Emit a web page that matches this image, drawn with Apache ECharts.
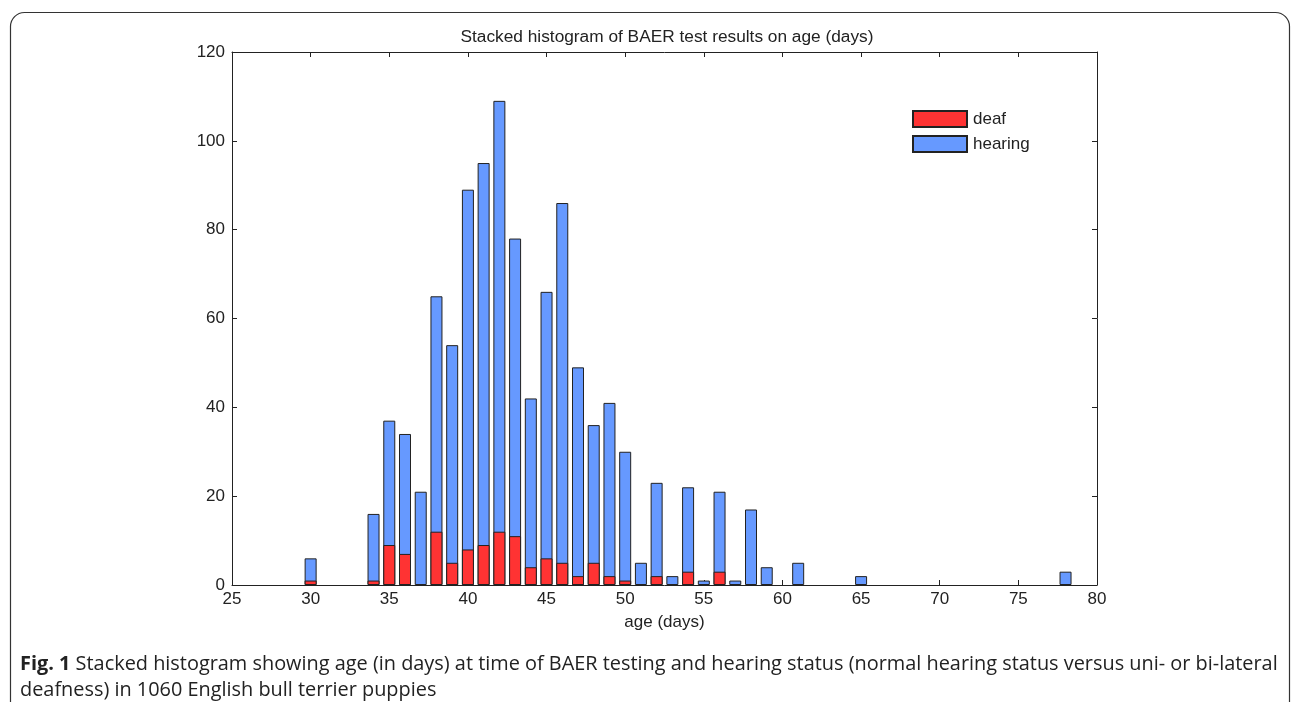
<!DOCTYPE html>
<html>
<head>
<meta charset="utf-8">
<script src="https://cdn.jsdelivr.net/npm/echarts@6/dist/echarts.min.js"></script>
<style>html,body{margin:0;padding:0;background:#fff;}#c{width:1293px;height:702px;}</style>
</head>
<body>
<div id="c"></div>
<script>
var ages = [30,34,35,36,37,38,39,40,41,42,43,44,45,46,47,48,49,50,51,52,53,54,55,56,57,58,59,61,65,78];
var deaf = [1,1,9,7,0,12,5,8,9,12,11,4,6,5,2,5,2,1,0,2,0,3,0,3,0,0,0,0,0,0];
var hearing = [5,15,28,27,21,53,49,81,86,97,67,38,60,81,47,31,39,29,5,21,2,19,1,18,1,17,4,5,2,3];
var yTicks = [0,20,40,60,80,100,120];
var xTicks = [25,30,35,40,45,50,55,60,65,70,75,80];

var RED = '#ff3333', BLUE = '#6699ff', INK = '#222';
var FONT = 'Liberation Sans, Arial, sans-serif';
var chart = echarts.init(document.getElementById('c'), null, {renderer: 'canvas'});
// stacked: the hearing bar spans from 0 to deaf+hearing, the deaf bar is drawn over its base
var stackTop = ages.map(function (a, i) { return [a, deaf[i] + hearing[i]]; });
var deafPts = ages.map(function (a, i) { return deaf[i] > 0 ? [a, deaf[i]] : [a, null]; });
var axisFont = {fontFamily: FONT, fontSize: 17, color: INK};
function boxAxis(extra) {
  return Object.assign({
    axisLine: {show: true, onZero: false, lineStyle: {color: INK, width: 1}},
    axisTick: {show: true, inside: true, length: 5, lineStyle: {color: INK}},
    splitLine: {show: false}
  }, extra);
}
chart.setOption({
  animation: false,
  backgroundColor: '#fff',
  title: {
    text: 'Stacked histogram of BAER test results on age (days)',
    left: 662, top: 24, textAlign: 'center',
    textStyle: {fontFamily: FONT, fontSize: 17.3, fontWeight: 'normal', color: INK}
  },
  legend: {
    left: 907, top: 105, orient: 'vertical', itemWidth: 54, itemHeight: 16, itemGap: 7,
    icon: 'rect',
    textStyle: {fontFamily: FONT, fontSize: 17, color: INK, padding: [0,0,0,1]},
    data: ['deaf', 'hearing']
  },
  grid: {left: 232, right: 196, top: 52, bottom: 117},
  xAxis: [boxAxis({
    type: 'value', min: xTicks[0], max: xTicks[xTicks.length-1], interval: 5,
    name: 'age (days)', nameLocation: 'middle', nameGap: 29,
    nameTextStyle: axisFont,
    axisLabel: Object.assign({margin: 6}, axisFont)
  }), boxAxis({
    type: 'value', position: 'top', min: xTicks[0], max: xTicks[xTicks.length-1], interval: 5,
    axisLabel: {show: false}
  })],
  yAxis: [boxAxis({
    type: 'value', min: yTicks[0], max: yTicks[yTicks.length-1], interval: 20,
    axisLabel: Object.assign({margin: 7}, axisFont)
  }), boxAxis({
    type: 'value', position: 'right', min: yTicks[0], max: yTicks[yTicks.length-1], interval: 20,
    axisLabel: {show: false}
  })],
  series: [{
    name: 'hearing', type: 'bar', barWidth: 12, barGap: '-100%', xAxisIndex: 0, yAxisIndex: 0, z: 2,
    itemStyle: {color: BLUE, borderColor: INK, borderWidth: 1},
    data: stackTop
  }, {
    name: 'deaf', type: 'bar', barWidth: 12, barGap: '-100%', xAxisIndex: 0, yAxisIndex: 0, z: 3,
    itemStyle: {color: RED, borderColor: INK, borderWidth: 1},
    data: deafPts
  }],
  graphic: [{
    type: 'rect', left: 8, top: 10, silent: true,
    shape: {width: 1279, height: 720, r: 14},
    style: {fill: 'none', stroke: '#333', lineWidth: 1.2}
  }, {
    type: 'text', left: 20, top: 651,
    style: {
      text: '{b|Fig. 1} Stacked histogram showing age (in days) at time of BAER testing and hearing status (normal hearing status versus uni- or bi-lateral\ndeafness) in 1060 English bull terrier puppies',
      font: '19.9px "Open Sans", sans-serif', fill: INK, lineHeight: 26,
      rich: {b: {fontFamily: 'Open Sans', fontSize: 19.9, fontWeight: 'bold', fill: INK, lineHeight: 26}}
    }
  }]
});
</script>
</body>
</html>
